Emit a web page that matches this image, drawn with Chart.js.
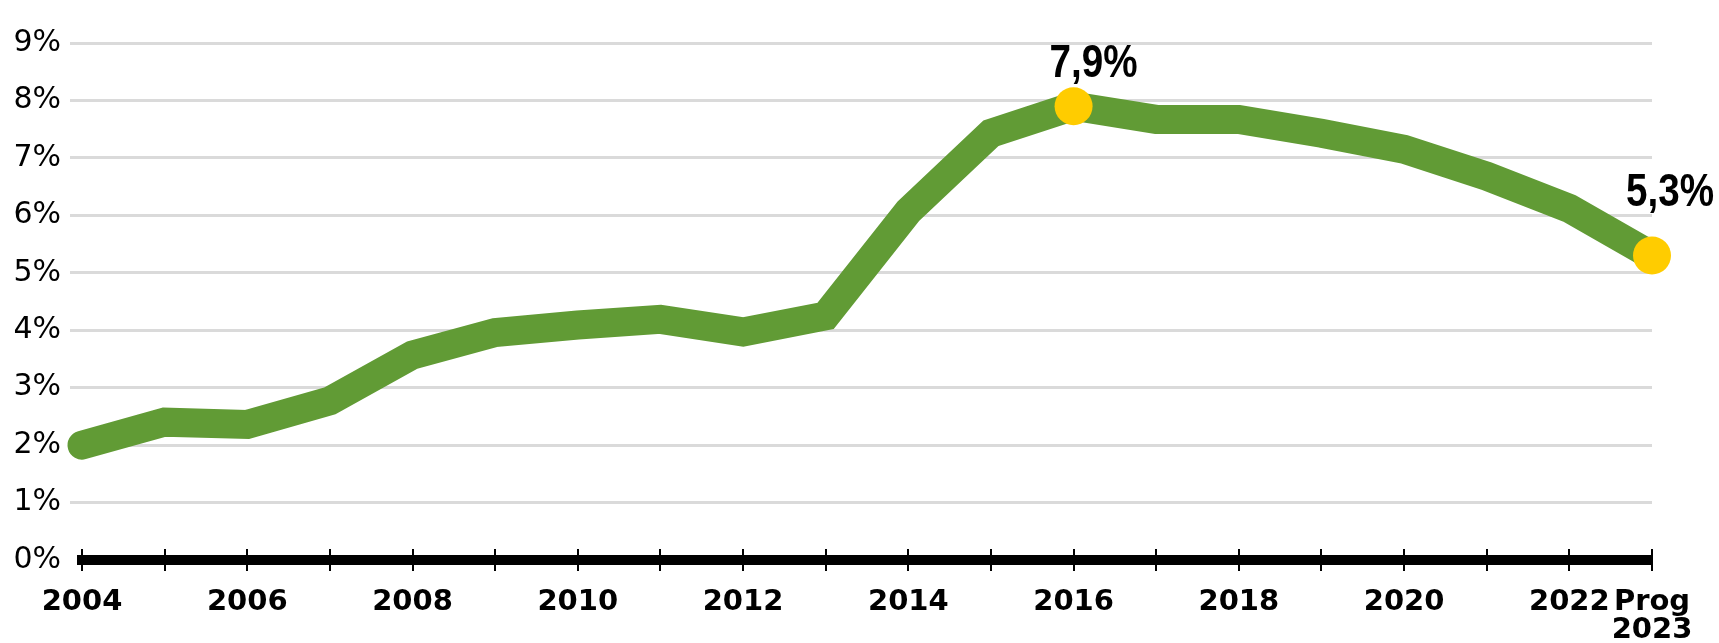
<!DOCTYPE html>
<html>
<head>
<meta charset="utf-8">
<script src="https://cdn.jsdelivr.net/npm/chart.js@4/dist/chart.umd.min.js"></script>
<style>
  html, body { margin: 0; padding: 0; background: #fff; }
  #wrap { width: 1719px; height: 643px; position: relative; }
</style>
</head>
<body>
<div id="wrap"><canvas id="lineChart"></canvas></div>
<script>
// Data
const years = ['2004', '2005', '2006', '2007', '2008', '2009', '2010', '2011', '2012', '2013',
    '2014', '2015', '2016', '2017', '2018', '2019', '2020', '2021', '2022', '2023']
const shares = [2.0, 2.4, 2.36, 2.77, 3.57, 3.96, 4.09, 4.19, 3.97, 4.25,
    6.07, 7.43, 7.9, 7.67, 7.67, 7.43, 7.15, 6.68, 6.12, 5.3]
const tickLabels = ['2004', '', '2006', '', '2008', '', '2010', '', '2012', '',
    '2014', '', '2016', '', '2018', '', '2020', '', '2022', ['Prog', '2023']]
const highlighted = [12, 19]

// label placement for the highlighted points (px)
const labelShift = { 12: [20, -29], 19: [18, -50] }

const GREEN = '#619b35'
const YELLOW = '#ffcc00'
const GRID = '#dadada'

// value labels above the yellow dots (condensed bold)
const valueLabels = {
    id: 'valueLabels',
    afterDatasetsDraw(chart) {
        const ctx = chart.ctx
        const meta = chart.getDatasetMeta(0)
        highlighted.forEach((i) => {
            const pt = meta.data[i]
            const [dx, dy] = labelShift[i]
            const txt = shares[i].toFixed(1).replace('.', ',') + '%'
            ctx.save()
            ctx.translate(pt.x + dx, pt.y + dy)
            ctx.scale(0.84, 1)
            ctx.fillStyle = '#000'
            ctx.font = 'bold 46px "Liberation Sans", Arial, sans-serif'
            ctx.textAlign = 'center'
            ctx.textBaseline = 'alphabetic'
            ctx.fillText(txt, 0, 0)
            ctx.restore()
        })
    },
}

// x tick marks crossing the thick base line
const crossTicks = {
    id: 'crossTicks',
    afterDraw(chart) {
        const ctx = chart.ctx
        const xs = chart.scales.x
        const base = chart.chartArea.bottom
        ctx.save()
        ctx.strokeStyle = '#000'
        ctx.lineWidth = 2
        xs.ticks.forEach((t, i) => {
            const x = Math.round(xs.getPixelForTick(i))
            ctx.beginPath()
            ctx.moveTo(x, base - 11)
            ctx.lineTo(x, base + 11)
            ctx.stroke()
        })
        ctx.restore()
    },
}

new Chart(document.getElementById('lineChart').getContext('2d'), {
    type: 'line',
    data: {
        labels: years,
        datasets: [
            {
                data: shares,
                borderColor: GREEN,
                borderWidth: 29,
                borderCapStyle: 'round',
                borderJoinStyle: 'miter',
                tension: 0,
                fill: false,
                clip: false,
                pointRadius: (c) => (highlighted.includes(c.dataIndex) ? 19 : 0),
                pointHoverRadius: (c) => (highlighted.includes(c.dataIndex) ? 19 : 0),
                pointBackgroundColor: YELLOW,
                pointBorderWidth: 0,
            },
        ],
    },
    options: {
        responsive: true,
        maintainAspectRatio: false,
        animation: false,
        events: [],
        layout: { padding: { top: 43, right: 67, left: 0, bottom: 0 } },
        plugins: {
            legend: { display: false },
            tooltip: { enabled: false },
        },
        scales: {
            x: {
                offset: false,
                grid: { drawOnChartArea: false, drawTicks: true, tickLength: 12, tickColor: 'rgba(0,0,0,0)' },
                border: { display: true, color: '#000', width: 10 },
                ticks: {
                    autoSkip: false,
                    maxRotation: 0,
                    padding: 16,
                    color: '#000',
                    font: { family: '"DejaVu Sans", sans-serif', size: 29, weight: 'bold', lineHeight: 0.97 },
                    callback: (v, i) => tickLabels[i],
                },
                afterFit: (scale) => { scale.height = 83 },
            },
            y: {
                min: 0,
                max: 9,
                grid: {
                    color: (c) => (c.tick && c.tick.value === 0 ? 'rgba(0,0,0,0)' : GRID),
                    lineWidth: 3,
                    drawTicks: true,
                    tickLength: 12,
                },
                border: { display: false },
                ticks: {
                    stepSize: 1,
                    padding: 9,
                    color: '#000',
                    font: { family: '"DejaVu Sans", sans-serif', size: 30 },
                    callback: (v) => v + '%',
                },
                afterFit: (scale) => { scale.width = 82 },
            },
        },
    },
    plugins: [valueLabels, crossTicks],
})
</script>
</body>
</html>
